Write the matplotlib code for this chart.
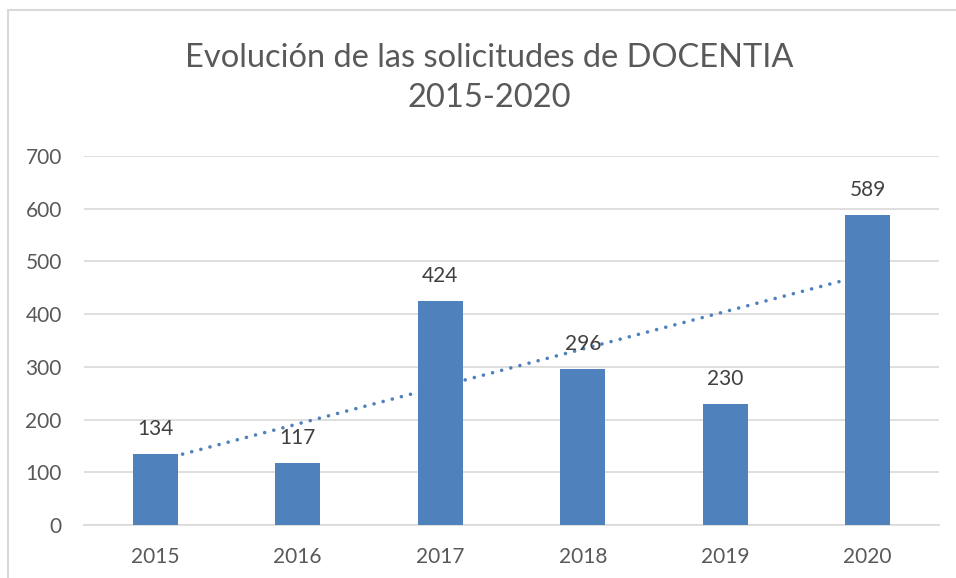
import matplotlib
matplotlib.use("Agg")
import matplotlib.pyplot as plt
import numpy as np
from matplotlib.patches import Rectangle

years = ["2015", "2016", "2017", "2018", "2019", "2020"]
solicitudes = [134, 117, 424, 296, 230, 589]
yticks = [0, 100, 200, 300, 400, 500, 600, 700]
title = "Evolución de las solicitudes de DOCENTIA\n2015-2020"

plt.rcParams['font.family'] = ['Lato', 'DejaVu Sans']

BAR = "#4F81BD"
TXT = "#595959"
LBL = "#404040"
GRID = "#D9D9D9"

fig = plt.figure(figsize=(9.56, 5.78), dpi=100)
W, H = 956, 578
# chart border (partly cropped)
fig.patches.append(Rectangle((8 / W, -0.1), 1.2, (H - 10) / H + 0.1, transform=fig.transFigure,
                             fill=False, edgecolor=GRID, linewidth=1.5))

ax = fig.add_axes([84 / W, 53 / H, (939 - 84) / W, (525 - 156) / H])
x = np.arange(len(years))
bars = ax.bar(x, solicitudes, width=0.315, color=BAR, zorder=3)

# linear trendline (least squares over category index)
coef = np.polyfit(x, solicitudes, 1)
xt = np.linspace(x[0], x[-1], 200)
ax.plot(xt, np.polyval(coef, xt), color=BAR, linestyle=(0, (0.01, 2.6)), linewidth=2.6,
        dash_capstyle='round', zorder=2)

for xi, v in zip(x, solicitudes):
    ax.annotate(str(v), (xi, v), xytext=(0, 18), textcoords='offset points',
                ha='center', va='center', fontsize=15, color=LBL, zorder=4)

ax.set_xlim(-0.5, len(years) - 0.5)
ax.set_ylim(0, 700)
ax.set_yticks(yticks)
ax.set_yticklabels([str(t) for t in yticks])
ax.set_xticks(x)
ax.set_xticklabels(years)
ax.tick_params(axis='both', length=0, labelsize=15, colors=TXT)
ax.tick_params(axis='y', pad=16)
ax.tick_params(axis='x', pad=16)
ax.grid(axis='y', color=GRID, linewidth=1.2, zorder=0)
ax.set_axisbelow(True)
for s in ['top', 'right', 'left']:
    ax.spines[s].set_visible(False)
ax.spines['bottom'].set_color(GRID)
ax.spines['bottom'].set_linewidth(1.2)

fig.text(489 / W, 1 - 78 / H, title, ha='center', va='center', fontsize=23.5, color=TXT,
         linespacing=1.45)

fig.savefig("out.png", dpi=100)
